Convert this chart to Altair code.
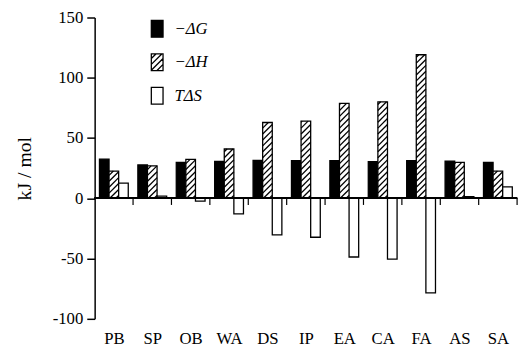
import altair as alt
import pandas as pd

categories = ["PB", "SP", "OB", "WA", "DS", "IP", "EA", "CA", "FA", "AS", "SA"]
neg_dG = [32.5, 27.7, 29.8, 30.6, 31.5, 31.2, 31.2, 30.4, 31.2, 30.9, 29.8]
neg_dH = [22.6, 26.9, 32.3, 40.9, 62.9, 64.0, 78.8, 80.1, 119.1, 29.8, 22.6]
TdS = [12.6, 1.9, -2.4, -12.9, -30.4, -32.3, -48.7, -50.5, -78.5, 1.3, 9.4]
series = ["\u2212\u0394G", "\u2212\u0394H", "T\u0394S"]
y_ticks = [-100, -50, 0, 50, 100, 150]

W, H = 429, 306
YMIN, YMAX = -100, 150
N = len(categories)
BAR0, BARW = 0.125, 0.25
FONT = "Liberation Serif"

fills = ["black", "white", "white"]
rows = []
for i, c in enumerate(categories):
    for k, (s, vals) in enumerate(zip(series, [neg_dG, neg_dH, TdS])):
        rows.append(dict(cat=c, series=s, x0=i + BAR0 + k * BARW,
                         x1=i + BAR0 + (k + 1) * BARW, v=vals[i], fill=fills[k]))
bars_df = pd.DataFrame(rows)

# hatch lines for the -dH bars (45 degrees in pixel space)
sx = W / N
sy = H / (YMAX - YMIN)
m = sx / sy
step = 6.0 / sy
hatch = []
for r in rows:
    if r["series"] != series[1]:
        continue
    xa, xb, h = r["x0"], r["x1"], r["v"]
    wy = (xb - xa) * m
    c = -wy + step * 0.5
    while c < h:
        if c < 0:
            xs, ys = xa + (0 - c) / m, 0.0
        else:
            xs, ys = xa, c
        if c + wy > h:
            xe, ye = xa + (h - c) / m, h
        else:
            xe, ye = xb, c + wy
        if xe > xs:
            hatch.append(dict(x0=xs, v=ys, x1=xe, v2=ye))
        c += step
hatch_df = pd.DataFrame(hatch)

bounds_df = pd.DataFrame({"x0": list(range(1, N + 1))})

# legend symbol shapes (unit box -1..1)
HW = 0.7
rect = f"M-{HW},-1L{HW},-1L{HW},1L-{HW},1Z"
hp = rect
for c in [-0.45, 0.25, 0.95, 1.65, 2.35]:
    x1, y1 = -HW, c
    x2, y2 = HW, c - 2 * HW
    if y1 > 1:
        x1, y1 = -HW + (y1 - 1), 1
    if y2 < -1:
        x2, y2 = HW - (-1 - y2), -1
    if x2 > x1:
        hp += f"M{x1:.3f},{y1:.3f}L{x2:.3f},{y2:.3f}"
legend_df = pd.DataFrame({"series": series, "x0": [0.5] * 3, "v": [0] * 3})

xscale = alt.Scale(domain=[0, N], nice=False, zero=False)
yscale = alt.Scale(domain=[YMIN, YMAX], nice=False)

label_expr = "[" + ",".join(f"'{c}'" for c in categories) + "][floor(datum.value)]"

xaxis = alt.Axis(values=[i + 0.5 for i in range(N)], labelExpr=label_expr,
                 domain=False, ticks=False, tickSize=0, grid=False,
                 labelPadding=12, title=None,
                 labelFont=FONT, labelFontSize=17, labelColor="black")
yaxis = alt.Axis(values=y_ticks, title="kJ / mol", grid=False,
                 labelExpr="toString(datum.value)",
                 tickSize=8, labelPadding=4, titlePadding=18,
                 labelFont=FONT, labelFontSize=17, labelColor="black",
                 titleFont=FONT, titleFontSize=20, titleFontWeight="normal",
                 titleColor="black", tickColor="black", tickWidth=1.5,
                 domainColor="black", domainWidth=1.5)

X = alt.X("x0:Q", scale=xscale, axis=xaxis, title=None)
Y = alt.Y("v:Q", scale=yscale, axis=yaxis, title="kJ / mol")

bars = alt.Chart(bars_df).mark_bar(stroke="black", strokeWidth=1.3).encode(
    x=X, x2="x1:Q", y=Y, y2=alt.datum(0),
    fill=alt.Fill("fill:N", scale=None),
)

hatch_layer = alt.Chart(hatch_df).mark_rule(color="black", strokeWidth=1.3).encode(
    x=X, x2="x1:Q", y=Y, y2="v2:Q",
)

zero = alt.Chart(bounds_df).mark_rule(color="black", strokeWidth=1.5).encode(
    y=alt.datum(0, scale=yscale, axis=yaxis, title="kJ / mol"),
)

ticks = alt.Chart(bounds_df).mark_rule(color="black", strokeWidth=1.2).encode(
    x=X,
    y=alt.datum(0, scale=yscale, axis=yaxis, title="kJ / mol"),
    y2=alt.datum(-5.5),
)

leg = alt.Legend(title=None, orient="none", legendX=54, legendY=2,
                 symbolSize=289, symbolStrokeColor="black",
                 symbolStrokeWidth=1.3, symbolOpacity=1,
                 labelFont=FONT, labelFontSize=17, labelColor="black",
                 labelFontStyle="italic", labelOffset=8, rowPadding=11,
                 padding=0)

legend_pts = alt.Chart(legend_df).mark_point(stroke="black", strokeWidth=1.3,
                                              filled=True).encode(
    x=X, y=Y,
    fill=alt.Fill("series:N", sort=series,
                  scale=alt.Scale(domain=series, range=fills), legend=leg),
    shape=alt.Shape("series:N", sort=series,
                    scale=alt.Scale(domain=series, range=[rect, hp, rect]),
                    legend=leg),
    opacity=alt.value(0),
)

chart = alt.layer(bars, hatch_layer, zero, ticks, legend_pts).properties(
    width=W, height=H,
    autosize=alt.AutoSizeParams(type="none"),
    padding={"left": 88, "top": 7, "right": 6, "bottom": 30},
    background="white",
).configure(font=FONT).configure_view(stroke=None).configure_axisY(
    labelFont=FONT, titleFont=FONT,
).configure_axisX(
    labelFont=FONT,
)

chart.save("out.html", embed_options={"renderer": "svg", "actions": False})
